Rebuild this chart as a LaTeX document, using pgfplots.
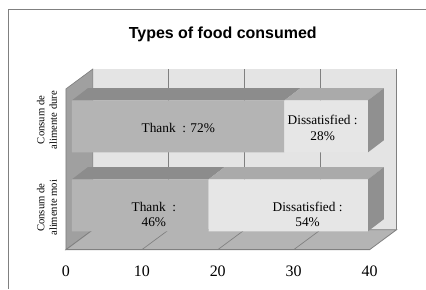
\documentclass[border=0pt]{standalone}
\usepackage{pgfplots}
\pgfplotsset{compat=1.18}
\usepackage{fontspec}
\setmainfont{Liberation Serif}
\newfontfamily\titlefont{Liberation Sans}

\definecolor{wallback}{HTML}{E4E4E4}
\definecolor{wallleft}{HTML}{A0A0A0}
\definecolor{floorc}{HTML}{B4B4B4}
\definecolor{gridc}{HTML}{808080}
\definecolor{thankfront}{HTML}{B4B4B4}
\definecolor{thanktop}{HTML}{8C8C8C}
\definecolor{disfront}{HTML}{E6E6E6}
\definecolor{distop}{HTML}{AAAAAA}
\definecolor{sidec}{HTML}{909090}

\pgfplotsset{base/.style={x=5.7pt,y=5.7pt,ymin=-5.132,ymax=32.895,clip=false}}

\begin{document}
\begin{tikzpicture}
% frame, walls, floor, ticks
\begin{axis}[base, xmin=-8.684, xmax=47.368,
  axis line style={draw=none}, major tick length=0pt, tick style={draw=none},
  /pgf/number format/assume math mode=true,
  xtick={0,10,20,30,40},
  xticklabel style={font=\fontsize{12}{14}\selectfont, anchor=base, yshift=9.4pt},
  ytick={5.53,17.1},
  yticklabels={{Consum de\\alimente moi},{Consum de\\alimente dure}},
  yticklabel style={xshift=35.25pt, rotate=90, anchor=center, align=center, font=\fontsize{8}{9.5}\selectfont},
  title={Types of food consumed},
  every axis title/.style={font=\titlefont\bfseries\fontsize{12}{14}\selectfont, at={(axis description cs:0.5235,0.8668)}, anchor=base},
]
% back wall
\addplot[fill=wallback, draw=none] coordinates {(3.55,2.63) (43.55,2.63) (43.55,23.81) (3.55,23.81)} -- cycle;
\addplot[gridc, line width=0.75pt] coordinates {(43.55,2.63) (43.55,23.81)};
\addplot[gridc, line width=0.75pt] coordinates {(13.55,2.63) (13.55,23.81)};
\addplot[gridc, line width=0.75pt] coordinates {(23.55,2.63) (23.55,23.81)};
\addplot[gridc, line width=0.75pt] coordinates {(33.55,2.63) (33.55,23.81)};
% left wall
\addplot[fill=wallleft, draw=gridc, line width=0.5pt] coordinates {(0,0) (3.55,2.63) (3.55,23.81) (0,21.18)} -- cycle;
% floor
\addplot[fill=floorc, draw=gridc, line width=0.6pt] coordinates {(0,0) (40,0) (43.55,2.63) (3.55,2.63)} -- cycle;
\addplot[gridc, line width=0.5pt] coordinates {(10,0) (13.55,2.63)};
\addplot[gridc, line width=0.5pt] coordinates {(20,0) (23.55,2.63)};
\addplot[gridc, line width=0.5pt] coordinates {(30,0) (33.55,2.63)};
\addplot[gridc, line width=1pt] coordinates {(0,0) (40,0)};
% outer frame
\addplot[gridc, line width=0.75pt] coordinates {(-7.5,-5.132) (-7.5,31.58) (47.368,31.58)};
\end{axis}

% bars (same scale; origin shifted to bar front face)
\begin{axis}[base, xmin=-9.473, xmax=46.579, hide axis,
  xbar stacked, reverse stacked plots=false, bar width=6.85]
% 3D top and side faces
\fill[thanktop] (axis cs:0,19.675) -- (axis cs:28,19.675) -- (axis cs:30.1,21.275) -- (axis cs:2.1,21.275) -- cycle;
\fill[distop] (axis cs:28,19.675) -- (axis cs:39,19.675) -- (axis cs:41.1,21.275) -- (axis cs:30.1,21.275) -- cycle;
\fill[sidec] (axis cs:39,12.825) -- (axis cs:41.1,14.425) -- (axis cs:41.1,21.275) -- (axis cs:39,19.675) -- cycle;
\fill[thanktop] (axis cs:0,9.275) -- (axis cs:18,9.275) -- (axis cs:20.1,10.875) -- (axis cs:2.1,10.875) -- cycle;
\fill[distop] (axis cs:18,9.275) -- (axis cs:39,9.275) -- (axis cs:41.1,10.875) -- (axis cs:20.1,10.875) -- cycle;
\fill[sidec] (axis cs:39,2.425) -- (axis cs:41.1,4.025) -- (axis cs:41.1,10.875) -- (axis cs:39,9.275) -- cycle;
% front faces: Thank, Dissatisfied
\addplot[fill=thankfront, draw=none] coordinates {(18,5.85) (28,16.25)};
\addplot[fill=disfront, draw=none] coordinates {(21,5.85) (11,16.25)};
% labels
\node[align=center, font=\fontsize{10}{11.5}\selectfont] at (axis cs:14.01,16.05) {Thank\ \ : 72\%};
\node[align=center, font=\fontsize{10}{11.5}\selectfont] at (axis cs:33.03,16.05) {Dissatisfied :\\28\%};
\node[align=center, font=\fontsize{10}{11.5}\selectfont] at (axis cs:10.79,4.61) {Thank\ \ :\\46\%};
\node[align=center, font=\fontsize{10}{11.5}\selectfont] at (axis cs:31.05,4.61) {Dissatisfied :\\54\%};
\end{axis}
\end{tikzpicture}
\end{document}
